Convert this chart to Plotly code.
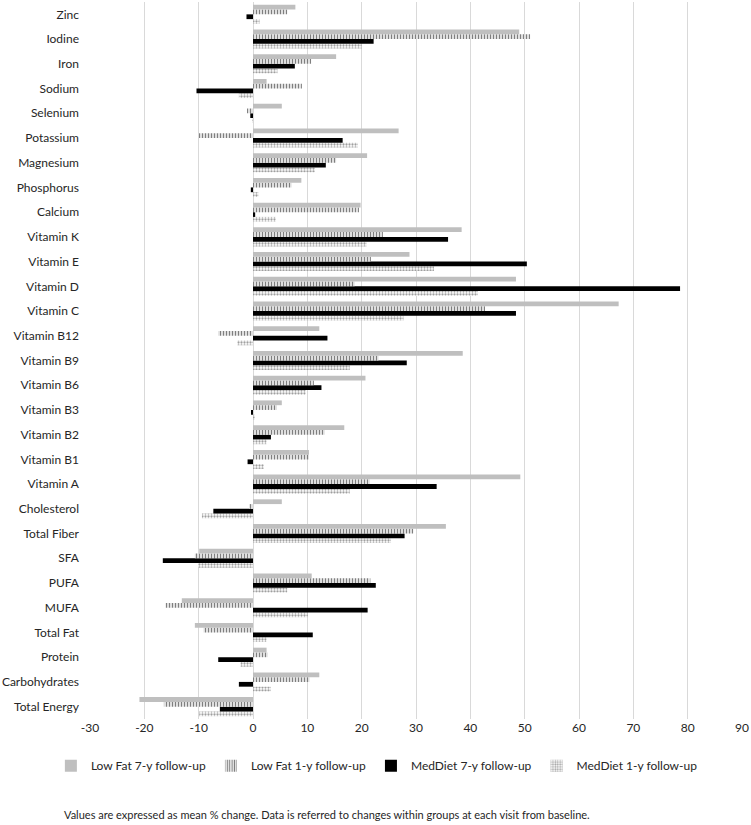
import plotly.graph_objects as go

categories = ["Total Energy", "Carbohydrates", "Protein", "Total Fat", "MUFA", "PUFA", "SFA",
              "Total Fiber", "Cholesterol", "Vitamin A", "Vitamin B1", "Vitamin B2", "Vitamin B3",
              "Vitamin B6", "Vitamin B9", "Vitamin B12", "Vitamin C", "Vitamin D", "Vitamin E",
              "Vitamin K", "Calcium", "Phosphorus", "Magnesium", "Potassium", "Selenium",
              "Sodium", "Iron", "Iodine", "Zinc"]

low_fat_7y = [-20.9, 12.2, 2.5, -10.7, -13.1, 10.8, -9.9, 35.5, 5.3, 49.2, 10.3, 16.8, 5.3,
              20.7, 38.6, 12.2, 67.3, 48.4, 28.8, 38.4, 19.8, 8.9, 21.0, 26.8, 5.3, 2.5, 15.3, 49.0, 7.8]
low_fat_1y = [-16.4, 10.4, 2.7, -9.1, -16.1, 21.6, -10.7, 29.5, -0.7, 21.5, 10.3, 13.2, 4.4,
              11.2, 23.1, -6.4, 42.7, 18.7, 21.7, 23.9, 19.5, 7.1, 15.3, -10.0, -1.1, 9.0, 10.7, 51.0, 6.3]
med_7y = [-6.1, -2.6, -6.4, 11.0, 21.1, 22.6, -16.6, 27.9, -7.3, 33.8, -1.0, 3.3, -0.2,
          12.6, 28.3, 13.7, 48.4, 78.6, 50.4, 35.9, 0.4, -0.4, 13.4, 16.5, -0.5, -10.4, 7.7, 22.2, -1.2]
med_1y = [-9.9, 3.3, -2.3, 2.5, 10.1, 6.3, -10.1, 25.4, -9.4, 17.8, 2.0, 2.5, 0.2,
          9.7, 17.8, -2.9, 27.7, 41.4, 33.3, 20.9, 4.2, 1.0, 11.4, 19.3, -0.1, -2.6, 4.5, 20.0, 1.2]

x_ticks = [-30, -20, -10, 0, 10, 20, 30, 40, 50, 60, 70, 80, 90]
x_tick_labels = ["-30", "-20", "-10", "0", "10", "20", "30", "40", "50", "60", "70", "80", "90"]

FONT = "Lato"
TXT = "#262626"

fig = go.Figure()
# added bottom-to-top within each group; legend order reversed
fig.add_trace(go.Bar(
    y=categories, x=med_1y, orientation="h", name="MedDiet 1-y follow-up",
    marker=dict(color="white", line=dict(width=0),
                pattern=dict(shape=".", fgcolor="#404040", bgcolor="white", size=3, solidity=0.45))))
fig.add_trace(go.Bar(
    y=categories, x=med_7y, orientation="h", name="MedDiet 7-y follow-up",
    marker=dict(color="black", line=dict(width=0))))
fig.add_trace(go.Bar(
    y=categories, x=low_fat_1y, orientation="h", name="Low Fat 1-y follow-up",
    marker=dict(color="white", line=dict(width=0),
                pattern=dict(shape="|", fgcolor="black", bgcolor="white", size=3, solidity=0.5))))
fig.add_trace(go.Bar(
    y=categories, x=low_fat_7y, orientation="h", name="Low Fat 7-y follow-up",
    marker=dict(color="#bfbfbf", line=dict(width=0))))

fig.update_layout(
    width=751, height=825,
    margin=dict(l=90, r=9, t=2, b=106),
    paper_bgcolor="white", plot_bgcolor="white",
    barmode="group", bargap=0.23, bargroupgap=0,
    font=dict(family=FONT, size=12, color=TXT),
    showlegend=True,
    legend=dict(orientation="h", traceorder="reversed", x=0.44, xanchor="center",
                y=-0.045, yanchor="top", font=dict(size=12, family=FONT, color=TXT),
                itemwidth=30),
    xaxis=dict(range=[-30, 90], tickvals=x_ticks, ticktext=x_tick_labels, showgrid=True,
               gridcolor="#d9d9d9", gridwidth=1, zeroline=True, zerolinecolor="#d9d9d9",
               zerolinewidth=1, showline=False, ticks="", tickfont=dict(size=12, color=TXT)),
    yaxis=dict(categoryorder="array", categoryarray=categories, showgrid=False,
               ticks="", ticklabelstandoff=10, tickfont=dict(size=12, color=TXT),
               automargin=False),
    annotations=[dict(text="Values are expressed as mean % change. Data is referred to changes within groups at each visit from baseline.",
                      xref="paper", yref="paper", x=-0.043, y=-0.122, xanchor="left", yanchor="top",
                      showarrow=False, font=dict(size=11, family=FONT, color=TXT))],
)

fig.write_html("out.html", config={"displayModeBar": False},
               post_script="document.body.style.margin='0px';")
